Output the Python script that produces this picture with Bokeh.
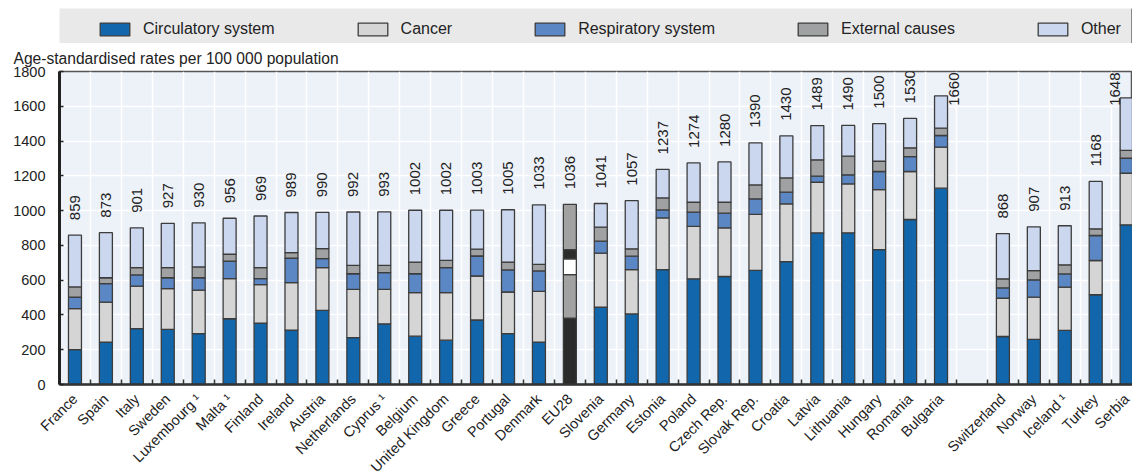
import math
from bokeh.plotting import figure
from bokeh.models import ColumnDataSource, Range1d, FixedTicker, Legend, LegendItem
from bokeh.layouts import column
from bokeh.embed import file_html
from bokeh.resources import INLINE

FONT = "Liberation Sans"

countries = ["France", "Spain", "Italy", "Sweden", "Luxembourg \u00b9", "Malta \u00b9", "Finland",
             "Ireland", "Austria", "Netherlands", "Cyprus \u00b9", "Belgium", "United Kingdom",
             "Greece", "Portugal", "Denmark", "EU28", "Slovenia", "Germany", "Estonia", "Poland",
             "Czech Rep.", "Slovak Rep.", "Croatia", "Latvia", "Lithuania", "Hungary", "Romania",
             "Bulgaria", "Switzerland", "Norway", "Iceland \u00b9", "Turkey", "Serbia"]
n_eu_group = 29  # first group (EU + EU28), then gap, then non-EU

circulatory = [200, 244, 321, 317, 292, 378, 353, 313, 426, 269, 349, 278, 255, 371, 292, 244,
               381, 445, 406, 661, 608, 621, 656, 707, 872, 872, 776, 949, 1129,
               276, 259, 311, 516, 918]
cancer = [236, 230, 245, 234, 251, 231, 221, 273, 246, 278, 198, 250, 273, 253, 240, 292,
          251, 310, 255, 297, 301, 280, 322, 332, 291, 282, 345, 276, 236,
          220, 243, 249, 197, 297]
respiratory = [67, 106, 64, 63, 71, 101, 35, 140, 52, 90, 96, 109, 144, 115, 127, 117,
               91, 69, 77, 46, 82, 84, 90, 67, 35, 52, 104, 86, 67,
               60, 100, 76, 144, 86]
external = [58, 34, 42, 58, 62, 39, 63, 32, 57, 48, 42, 67, 42, 39, 45, 38,
            53, 81, 42, 69, 57, 63, 80, 82, 94, 107, 59, 50, 42,
            52, 53, 52, 38, 45]
other = [298, 259, 229, 255, 254, 207, 297, 231, 209, 307, 308, 298, 288, 225, 301, 342,
         260, 136, 277, 164, 226, 232, 242, 242, 197, 177, 216, 169, 186,
         260, 252, 225, 273, 302]
totals = [859, 873, 901, 927, 930, 956, 969, 989, 990, 992, 993, 1002, 1002, 1003, 1005, 1033,
          1036, 1041, 1057, 1237, 1274, 1280, 1390, 1430, 1489, 1490, 1500, 1530, 1660,
          868, 907, 913, 1168, 1648]

series_names = ["Circulatory system", "Cancer", "Respiratory system", "External causes", "Other"]
series_values = [circulatory, cancer, respiratory, external, other]
series_colors = ["#1266ab", "#d5d5d5", "#5b88c5", "#a0a1a3", "#cad7ee"]
eu28_colors = ["#2b2b2b", "#a2a2a2", "#ffffff", "#2b2b2b", "#a2a2a2"]
OUTLINE = "#3c3c3c"
TXT = "#222222"

# x positions: one slot per country, with an empty slot between the two groups
xpos = [i if i < n_eu_group else i + 1 for i in range(len(countries))]
n_slots = len(countries) + 1

# ---------------- legend strip ----------------
leg = figure(width=1132, height=43, x_range=Range1d(0, 1), y_range=Range1d(0, 1),
             toolbar_location=None, output_backend="svg",
             x_axis_location=None, y_axis_location=None,
             min_border_left=59, min_border_right=0, min_border_top=8, min_border_bottom=0)
leg.grid.visible = False
leg.background_fill_color = "#e9e9ea"
leg.border_fill_color = "white"
leg.outline_line_color = None
items = []
for name, col in zip(series_names, series_colors):
    r = leg.vbar(x=[5], top=[1], width=0.5, fill_color=col, line_color=OUTLINE, line_width=1.3)
    items.append(LegendItem(label=name, renderers=[r]))
legend = Legend(items=items, orientation="horizontal", location=(37, 5),
                glyph_width=37, glyph_height=16, label_standoff=10, spacing=79,
                padding=0, margin=0, background_fill_alpha=0, border_line_color=None,
                label_text_font=FONT, label_text_font_size="16px", label_text_color=TXT)
leg.add_layout(legend)

# ---------------- main chart ----------------
p = figure(frame_width=1073, frame_height=313, x_range=Range1d(-0.5, 34.19),
           y_range=Range1d(0, 1800), toolbar_location=None, output_backend="svg",
           min_border_left=59, min_border_right=0, min_border_top=28, min_border_bottom=0,
           title="Age-standardised rates per 100 000 population")
p.title.align = "left"
p.title.offset = -46
p.title.standoff = 9
p.title.text_font = FONT
p.title.text_font_size = "15.6px"
p.title.text_font_style = "normal"
p.title.text_color = TXT
p.background_fill_color = "#edf1f8"
p.border_fill_color = "white"
p.outline_line_color = "#555555"
p.outline_line_width = 1.5

bottoms = [0] * len(countries)
for k, (vals, col) in enumerate(zip(series_values, series_colors)):
    tops = [b + v for b, v in zip(bottoms, vals)]
    colors = [eu28_colors[k] if c == "EU28" else col for c in countries]
    src = ColumnDataSource(dict(x=xpos, b=bottoms, t=tops, c=colors))
    p.vbar(x="x", bottom="b", top="t", width=0.42, source=src,
           fill_color="c", line_color=OUTLINE, line_width=1.3)
    bottoms = tops

# value labels above bars
fit = [t <= 1600 for t in totals]
lab_src = ColumnDataSource(dict(x=[x for x, f in zip(xpos, fit) if f],
                                y=[t for t, f in zip(totals, fit) if f],
                                s=[str(t) for t, f in zip(totals, fit) if f]))
p.text(x="x", y="y", text="s", source=lab_src, angle=math.pi / 2, text_align="left",
       text_baseline="middle", y_offset=-15, text_font_size="15px", text_color=TXT,
       text_font={"value": FONT})
# labels of the tallest bars are pushed against the top of the frame
top_idx = [i for i, f in enumerate(fit) if not f]
shifts = [13, -12]
for j, i in enumerate(top_idx):
    p.text(x=[xpos[i]], y=[1800], text=[str(totals[i])], angle=math.pi / 2,
           text_align="right", text_baseline="middle", x_offset=shifts[j % 2], y_offset=1,
           text_font_size="15px", text_color=TXT, text_font={"value": FONT})

# axes
p.yaxis.ticker = FixedTicker(ticks=list(range(0, 1801, 200)))
p.yaxis.axis_line_width = 3
p.yaxis.axis_line_color = TXT
p.yaxis.major_tick_in = 4
p.yaxis.major_tick_out = 0
p.yaxis.major_tick_line_color = TXT
p.yaxis.major_tick_line_width = 1.5
p.yaxis.minor_tick_line_color = None
p.yaxis.major_label_text_font = FONT
p.yaxis.major_label_text_font_size = "14.5px"
p.yaxis.major_label_text_color = TXT
p.yaxis.major_label_standoff = 14

boundaries = [s - 0.5 for s in range(n_slots + 1)]
p.xaxis.ticker = FixedTicker(ticks=xpos, minor_ticks=boundaries)
p.xaxis.major_label_overrides = {x: c for x, c in zip(xpos, countries)}
p.xaxis.major_label_orientation = math.pi / 4
p.xaxis.major_tick_line_color = None
p.xaxis.minor_tick_in = 5
p.xaxis.minor_tick_out = 0
p.xaxis.minor_tick_line_color = "#333333"
p.xaxis.minor_tick_line_width = 1.5
p.xaxis.axis_line_width = 2.5
p.xaxis.axis_line_color = "#333333"
p.xaxis.major_label_text_font = FONT
p.xaxis.major_label_text_font_size = "14.5px"
p.xaxis.major_label_text_color = TXT
p.xaxis.major_label_standoff = 6

p.xgrid.ticker = FixedTicker(ticks=boundaries)
p.xgrid.grid_line_color = "white"
p.xgrid.grid_line_width = 1.5
p.ygrid.grid_line_color = "white"
p.ygrid.grid_line_width = 1.5

layout = column(leg, p, spacing=0)
open("out.html", "w").write(file_html(layout, INLINE))
